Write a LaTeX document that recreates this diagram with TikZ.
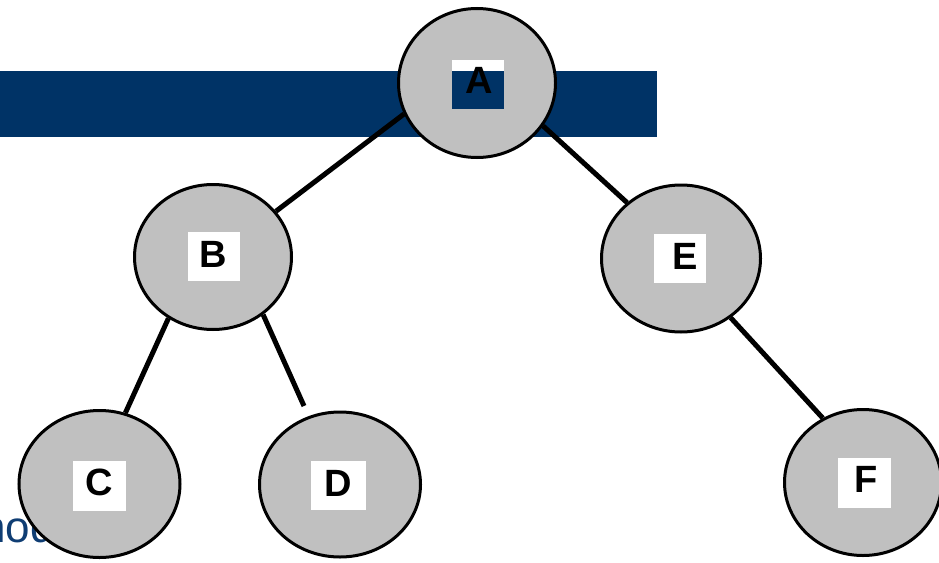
\documentclass[tikz,border=0pt]{standalone}
\usepackage{fontspec}
\setmainfont{Liberation Sans}
\usetikzlibrary{shapes.geometric}
\definecolor{navy}{HTML}{003366}
\definecolor{navytext}{HTML}{0F3D73}
\definecolor{nodegray}{HTML}{C0C0C0}
\begin{document}
\begin{tikzpicture}[x=1pt,y=-1pt,
  treenode/.style={ellipse, draw=black, line width=3pt, fill=nodegray, inner sep=0pt},
  labelbox/.style={rectangle, fill=white, inner sep=0pt, minimum width=52pt, minimum height=49pt},
  letter/.style={inner sep=0pt, anchor=base, font=\fontsize{38}{40}\selectfont\bfseries},
  edge/.style={draw=black, line width=5pt}]
\useasboundingbox (0,0) rectangle (939,562);
% background band and caption
\fill[navy] (-2,71) rectangle (657,137);
\node[anchor=base west, text=navytext, font=\fontsize{44}{52}\selectfont, inner sep=0pt] (caption) at (-19,542) {node};
% nodes
\node[treenode, minimum width=157pt, minimum height=149pt] (A) at (477,83) {};
\node[treenode, minimum width=157pt, minimum height=145pt] (B) at (213,257) {};
\node[treenode, minimum width=161pt, minimum height=147pt] (C) at (99.5,484) {};
\node[treenode, minimum width=161pt, minimum height=145pt] (D) at (340,484.5) {};
\node[treenode, minimum width=159pt, minimum height=147pt] (E) at (681,258.5) {};
\node[treenode, minimum width=157pt, minimum height=146pt] (F) at (863,482.5) {};
\coordinate (Dend) at (304,406);
% edges
\draw[edge] (A.203) -- (B.36);
\draw[edge] (A.327) -- (E.134);
\draw[edge] (B.234) -- (C.70);
\draw[edge] (B.311) -- (Dend);
\draw[edge] (E.310) -- (F.122);
% label boxes
\node[labelbox] (bA) at (477.5,84) {};
\fill[navy] (451.5,71) rectangle (503.5,108.5);
\node[labelbox] (bB) at (214,256.5) {};
\node[labelbox, minimum width=53pt, minimum height=50pt] (bC) at (99.5,486) {};
\node[labelbox, minimum width=55pt] (bD) at (338.5,485.5) {};
\node[labelbox] (bE) at (680,258.5) {};
\node[labelbox, minimum width=53pt, minimum height=50pt] (bF) at (864.5,483) {};
% letters
\node[letter] (lA) at (479,93) {A};
\node[letter] (lB) at (213,267) {B};
\node[letter] (lC) at (99.5,495) {C};
\node[letter] (lD) at (338.5,496) {D};
\node[letter] (lE) at (685.5,269) {E};
\node[letter] (lF) at (866.5,492) {F};
\end{tikzpicture}
\end{document}
